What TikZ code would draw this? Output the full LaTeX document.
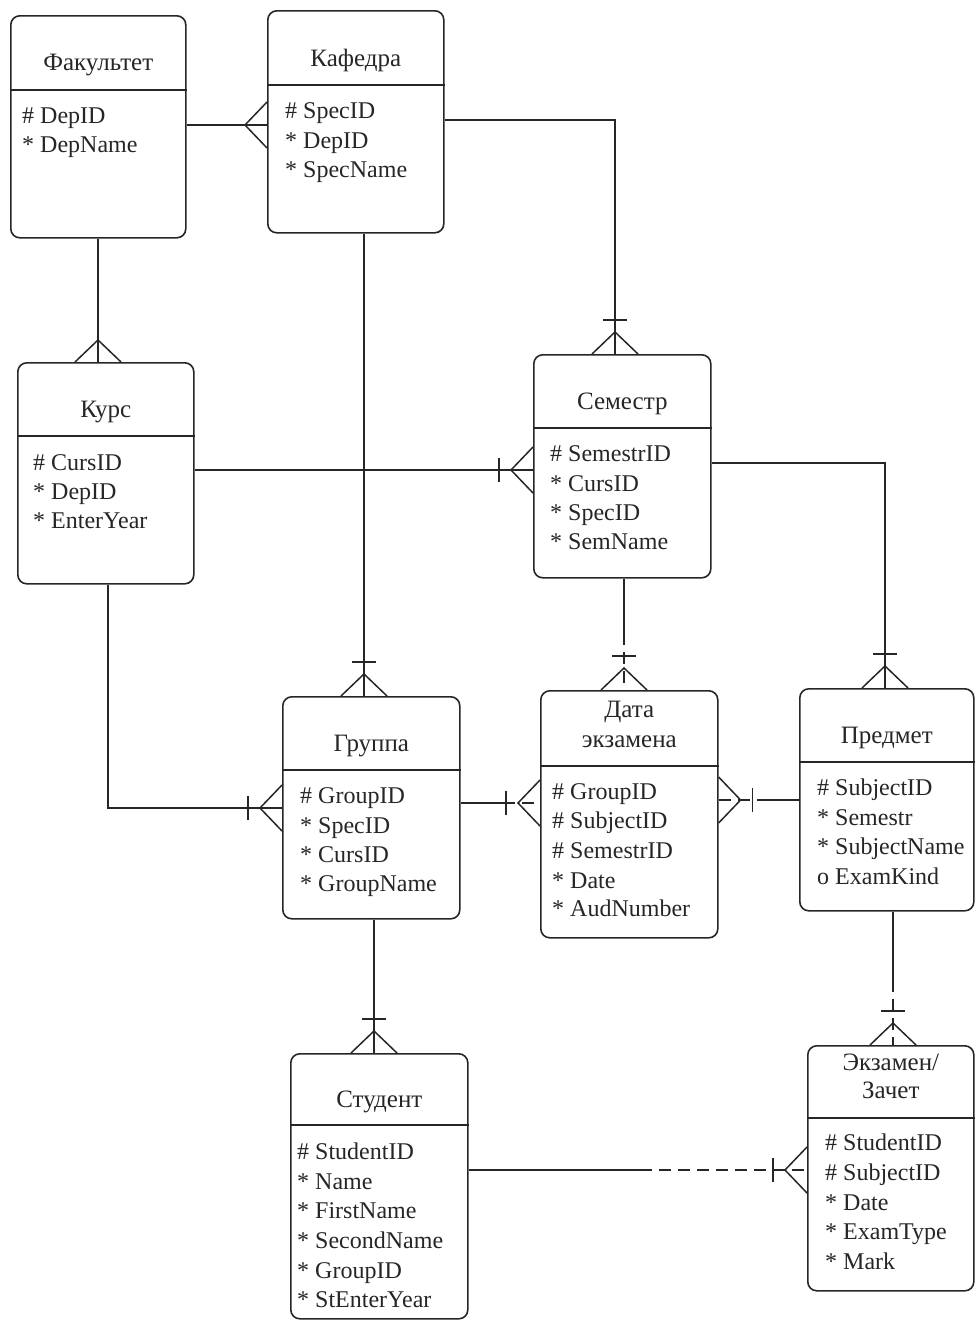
\documentclass[tikz,border=0pt]{standalone}
\usepackage{fontspec}
\setmainfont{Liberation Serif}
\begin{document}
\begin{tikzpicture}[x=1pt,y=-1pt,
  entity/.style={draw=black!85, line width=1.6pt, rounded corners=9pt, inner sep=0pt, anchor=north west},
  divider/.style={draw=black!85, line width=1.6pt},
  ttl/.style={anchor=base, inner sep=0pt, text=black!85, font=\fontsize{25}{29}\selectfont},
  attr/.style={anchor=base west, inner sep=0pt, text=black!85, font=\fontsize{24}{28}\selectfont},
  conn/.style={draw=black!85, line width=1.5pt},
  dconn/.style={draw=black!85, line width=1.5pt, dash pattern=on 12pt off 7pt},
  crow/.pic={\draw[black!85, line width=1.5pt] (0,23) -- (-22,0) -- (0,-23);},
  onebar/.pic={\draw[black!85, line width=1.5pt] (-34,-12) -- (-34,12);}
]
\useasboundingbox (0,0) rectangle (976,1320);

% ---------- entities ----------
\node[entity, minimum width=175pt, minimum height=222pt] (fak) at (10,15) {};
\draw[divider] (fak.west |- 0,90) -- (fak.east |- 0,90);
\node[ttl] (fakT) at (fak.center |- 0,70) {Факультет};
\node[attr] (fak1) at (22,123) {\# DepID};
\node[attr] (fak2) at (22,152) {* DepName};

\node[entity, minimum width=176pt, minimum height=222pt] (kaf) at (267,10) {};
\draw[divider] (kaf.west |- 0,85) -- (kaf.east |- 0,85);
\node[ttl] (kafT) at (kaf.center |- 0,66) {Кафедра};
\node[attr] (kaf1) at (285,118) {\# SpecID};
\node[attr] (kaf2) at (285,148) {* DepID};
\node[attr] (kaf3) at (285,177) {* SpecName};

\node[entity, minimum width=176pt, minimum height=221pt] (kurs) at (17,362) {};
\draw[divider] (kurs.west |- 0,436) -- (kurs.east |- 0,436);
\node[ttl] (kursT) at (kurs.center |- 0,417) {Курс};
\node[attr] (kurs1) at (33,470) {\# CursID};
\node[attr] (kurs2) at (33,499) {* DepID};
\node[attr] (kurs3) at (33,528) {* EnterYear};

\node[entity, minimum width=177pt, minimum height=223pt] (sem) at (533,354) {};
\draw[divider] (sem.west |- 0,428) -- (sem.east |- 0,428);
\node[ttl] (semT) at (sem.center |- 0,409) {Семестр};
\node[attr] (sem1) at (550,461) {\# SemestrID};
\node[attr] (sem2) at (550,491) {* CursID};
\node[attr] (sem3) at (550,520) {* SpecID};
\node[attr] (sem4) at (550,549) {* SemName};

\node[entity, minimum width=177pt, minimum height=222pt] (grp) at (282,696) {};
\draw[divider] (grp.west |- 0,770) -- (grp.east |- 0,770);
\node[ttl] (grpT) at (grp.center |- 0,751) {Группа};
\node[attr] (grp1) at (300,803) {\# GroupID};
\node[attr] (grp2) at (300,833) {* SpecID};
\node[attr] (grp3) at (300,862) {* CursID};
\node[attr] (grp4) at (300,891) {* GroupName};

\node[entity, minimum width=177pt, minimum height=247pt] (date) at (540,690) {};
\draw[divider] (date.west |- 0,766) -- (date.east |- 0,766);
\node[ttl] (dateT1) at (date.center |- 0,717) {Дата};
\node[ttl] (dateT2) at (date.center |- 0,747) {экзамена};
\node[attr] (date1) at (552,799) {\# GroupID};
\node[attr] (date2) at (552,828) {\# SubjectID};
\node[attr] (date3) at (552,858) {\# SemestrID};
\node[attr] (date4) at (552,888) {* Date};
\node[attr] (date5) at (552,916) {* AudNumber};

\node[entity, minimum width=174pt, minimum height=222pt] (pred) at (799,688) {};
\draw[divider] (pred.west |- 0,762) -- (pred.east |- 0,762);
\node[ttl] (predT) at (pred.center |- 0,743) {Предмет};
\node[attr] (pred1) at (817,795) {\# SubjectID};
\node[attr] (pred2) at (817,825) {* Semestr};
\node[attr] (pred3) at (817,854) {* SubjectName};
\node[attr] (pred4) at (817,884) {o ExamKind};

\node[entity, minimum width=177pt, minimum height=265pt] (stud) at (290,1053) {};
\draw[divider] (stud.west |- 0,1125) -- (stud.east |- 0,1125);
\node[ttl] (studT) at (stud.center |- 0,1107) {Студент};
\node[attr] (stud1) at (297,1159) {\# StudentID};
\node[attr] (stud2) at (297,1189) {* Name};
\node[attr] (stud3) at (297,1218) {* FirstName};
\node[attr] (stud4) at (297,1248) {* SecondName};
\node[attr] (stud5) at (297,1278) {* GroupID};
\node[attr] (stud6) at (297,1307) {* StEnterYear};

\node[entity, minimum width=166pt, minimum height=245pt] (exam) at (807,1045) {};
\draw[divider] (exam.west |- 0,1118) -- (exam.east |- 0,1118);
\node[ttl] (examT1) at (exam.center |- 0,1070) {Экзамен/};
\node[ttl] (examT2) at (exam.center |- 0,1098) {Зачет};
\node[attr] (exam1) at (825,1150) {\# StudentID};
\node[attr] (exam2) at (825,1180) {\# SubjectID};
\node[attr] (exam3) at (825,1210) {* Date};
\node[attr] (exam4) at (825,1239) {* ExamType};
\node[attr] (exam5) at (825,1269) {* Mark};

% ---------- connectors ----------
% Факультет - Кафедра
\draw[conn] (fak.east |- 0,125) -- (kaf.west |- 0,125);
\pic at (kaf.west |- 0,125) {crow};
% Факультет - Курс
\draw[conn] (fak.south -| 98,0) -- (kurs.north -| 98,0);
\pic[rotate=-90] at (kurs.north -| 98,0) {crow};
% Кафедра - Семестр
\draw[conn] (kaf.east |- 0,120) -| (sem.north -| 615,0);
\pic[rotate=-90] at (sem.north -| 615,0) {crow};
\pic[rotate=-90] at (sem.north -| 615,0) {onebar};
% Кафедра - Группа
\draw[conn] (kaf.south -| 364,0) -- (grp.north -| 364,0);
\pic[rotate=-90] at (grp.north -| 364,0) {crow};
\pic[rotate=-90] at (grp.north -| 364,0) {onebar};
% Курс - Семестр
\draw[conn] (kurs.east |- 0,470) -- (sem.west |- 0,470);
\pic at (sem.west |- 0,470) {crow};
\pic at (sem.west |- 0,470) {onebar};
% Курс - Группа
\draw[conn] (kurs.south -| 108,0) |- (grp.west |- 0,808);
\pic at (grp.west |- 0,808) {crow};
\pic at (grp.west |- 0,808) {onebar};
% Семестр - Предмет
\draw[conn] (sem.east |- 0,463) -| (pred.north -| 885,0);
\pic[rotate=-90] at (pred.north -| 885,0) {crow};
\pic[rotate=-90] at (pred.north -| 885,0) {onebar};
% Семестр - Дата экзамена
\coordinate (sd) at (624,633);
\draw[conn] (sem.south -| sd) -- (sd);
\draw[dconn] (sd) -- (date.north -| sd);
\pic[rotate=-90] at (date.north -| sd) {crow};
\pic[rotate=-90] at (date.north -| sd) {onebar};
% Группа - Дата экзамена
\coordinate (gd) at (503,803);
\draw[conn] (grp.east |- gd) -- (gd);
\draw[dconn] (gd) -- (date.west |- gd);
\pic at (date.west |- gd) {crow};
\pic at (date.west |- gd) {onebar};
% Дата экзамена - Предмет
\coordinate (dp) at (760,800);
\draw[dconn] (date.east |- dp) -- (dp);
\draw[conn] (dp) -- (pred.west |- dp);
\pic[rotate=180] at (date.east |- dp) {crow};
\pic[rotate=180] at (date.east |- dp) {onebar};
% Предмет - Экзамен/Зачет
\coordinate (pe) at (893,980);
\draw[conn] (pred.south -| pe) -- (pe);
\draw[dconn] (pe) -- (exam.north -| pe);
\pic[rotate=-90] at (exam.north -| pe) {crow};
\pic[rotate=-90] at (exam.north -| pe) {onebar};
% Группа - Студент
\draw[conn] (grp.south -| 374,0) -- (stud.north -| 374,0);
\pic[rotate=-90] at (stud.north -| 374,0) {crow};
\pic[rotate=-90] at (stud.north -| 374,0) {onebar};
% Студент - Экзамен/Зачет
\coordinate (se) at (640,1170);
\draw[conn] (stud.east |- se) -- (se);
\draw[dconn] (se) -- (exam.west |- se);
\pic at (exam.west |- se) {crow};
\pic at (exam.west |- se) {onebar};
\end{tikzpicture}
\end{document}
